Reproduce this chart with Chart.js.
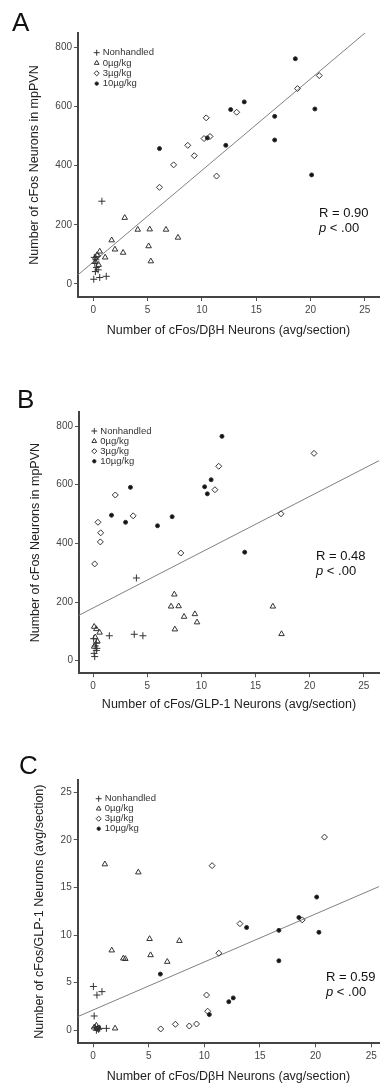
<!DOCTYPE html>
<html>
<head>
<meta charset="utf-8">
<script src="https://cdn.jsdelivr.net/npm/chart.js@4.4.1/dist/chart.umd.min.js"></script>
<style>
  body { margin: 0; background: #fff; }
  .panel { position: absolute; left: 0; width: 384px; }
</style>
</head>
<body>
<div class="panel" style="top:0px;height:345px"><canvas id="chartA" width="384" height="345"></canvas></div>
<div class="panel" style="top:360px;height:360px"><canvas id="chartB" width="384" height="360"></canvas></div>
<div class="panel" style="top:720px;height:368px"><canvas id="chartC" width="384" height="368"></canvas></div>
<script>
// groups (legend)
const groups = ['Nonhandled', '0µg/kg', '3µg/kg', '10µg/kg'];

// Panel A: DβH (x) vs cFos mpPVN (y)
const aNonhandled = [[0.8,280],[0.05,16],[0.6,22],[1.2,26],[0.2,42],[0.3,56],[0.15,70],[0.25,82],[0.45,48],[0.1,90]];
const aZero = [[2.9,224],[4.1,184],[5.2,185],[6.7,184],[7.8,157],[1.7,148],[2.0,117],[2.75,106],[5.1,128],[5.3,77],[1.1,90],[0.6,110],[0.35,98],[0.2,75],[0.5,65]];
const aThree = [[20.8,705],[18.8,661],[13.2,581],[10.4,562],[8.7,469],[9.3,434],[7.4,403],[10.2,492],[10.75,499],[11.35,365],[6.1,327],[0.2,88],[0.4,95]];
const aTen = [[18.6,762],[13.9,616],[12.65,590],[20.4,592],[16.7,567],[10.5,494],[12.2,469],[16.7,487],[6.1,458],[20.1,369]];
const aFit = [[-1.4,31],[26.3,889]];

// Panel B: GLP-1 (x) vs cFos mpPVN (y)
const bNonhandled = [[4.0,282],[1.5,85],[3.8,90],[4.6,85],[0.05,75],[0.3,60],[0.35,42],[0.1,25],[0.15,14],[0.3,35],[0.2,50]];
const bZero = [[7.5,226],[7.2,185],[7.9,186],[8.4,150],[9.4,159],[9.6,131],[7.55,107],[16.6,185],[17.4,91],[0.1,116],[0.3,108],[0.6,96],[0.2,80],[0.4,66],[0.1,48]];
const bThree = [[20.4,707],[11.6,663],[11.25,583],[2.05,565],[3.7,494],[17.35,501],[0.45,472],[0.7,436],[0.67,405],[0.15,330],[8.1,367]];
const bTen = [[11.9,765],[3.45,591],[10.3,593],[10.9,617],[10.55,569],[1.7,496],[3.0,472],[5.95,460],[7.3,491],[14.0,370]];
const bFit = [[-1.3,155],[26.4,682]];

// Panel C: DβH (x) vs GLP-1 (y)
const cNonhandled = [[0.03,4.6],[0.35,3.7],[0.8,4.06],[0.1,1.5],[1.2,0.2],[0.2,0.3],[0.5,0.1],[0.3,0.0],[0.6,0.2]];
const cZero = [[1.06,17.45],[4.07,16.6],[5.08,9.6],[7.76,9.4],[1.68,8.4],[2.72,7.55],[2.9,7.5],[5.17,7.9],[6.67,7.2],[1.98,0.2],[0.1,0.3],[0.3,0.5]];
const cThree = [[10.7,17.3],[20.8,20.3],[18.8,11.6],[13.2,11.2],[11.3,8.1],[10.2,3.7],[10.3,2.0],[6.08,0.14],[7.4,0.63],[8.65,0.45],[9.3,0.66]];
const cTen = [[20.1,14.0],[18.5,11.85],[20.3,10.3],[16.7,10.5],[16.7,7.3],[13.8,10.8],[6.05,5.9],[10.45,1.65],[12.2,3.0],[12.6,3.4],[0.3,0.2],[0.5,0.3],[0.4,0.1]];
const cFit = [[-1.38,1.43],[25.7,15.1]];

// ticks
const xTicks = [0, 5, 10, 15, 20, 25];
const cfosTicks = [0, 200, 400, 600, 800];
const glpTicks = [0, 5, 10, 15, 20, 25];

const FONT = "'Liberation Sans', Arial, sans-serif";
Chart.defaults.font.family = FONT;
Chart.defaults.color = '#444';

const markers = [
  { pointStyle: 'cross', radius: 3.5, fill: 'rgba(0,0,0,0)' },
  { pointStyle: 'triangle', radius: 3.2, fill: 'rgba(0,0,0,0)' },
  { pointStyle: 'rectRot', radius: 3, fill: 'rgba(0,0,0,0)' },
  { pointStyle: 'circle', radius: 2, fill: '#111' }
];

function toPts(arr) { return arr.map(p => ({ x: p[0], y: p[1] })); }

// letter, legend, R / p text
const panelText = {
  id: 'panelText',
  afterDraw(chart, args, o) {
    const ctx = chart.ctx;
    const ca = chart.chartArea;
    ctx.save();
    ctx.fillStyle = '#111';
    ctx.font = '26px ' + FONT;
    ctx.textBaseline = 'alphabetic';
    ctx.textAlign = 'left';
    ctx.fillText(o.letter, o.lx, o.ly);

    // legend
    ctx.font = '9.5px ' + FONT;
    ctx.textBaseline = 'middle';
    groups.forEach((g, i) => {
      const y = ca.top + o.legY + i * o.legStep;
      const m = markers[i];
      ctx.fillStyle = m.fill;
      ctx.strokeStyle = '#333';
      ctx.lineWidth = 1;
      Chart.helpers.drawPoint(ctx, { pointStyle: m.pointStyle, radius: m.radius * 0.85, rotation: 0, borderWidth: 1 }, ca.left + o.legX, y);
      ctx.fillStyle = '#333';
      ctx.fillText(g, ca.left + o.legX + 6, y);
    });

    // R and p
    ctx.fillStyle = '#111';
    ctx.font = '13px ' + FONT;
    ctx.fillText(o.r, o.rx, o.ry);
    ctx.font = 'italic 13px ' + FONT;
    ctx.fillText('p', o.rx, o.ry + 15);
    const w = ctx.measureText('p').width;
    ctx.font = '13px ' + FONT;
    ctx.fillText(' < .00', o.rx + w, o.ry + 15);
    ctx.restore();
  }
};

function makeChart(id, sets, fit, cfg) {
  const datasets = sets.map((s, i) => ({
    label: groups[i],
    data: toPts(s),
    pointStyle: markers[i].pointStyle,
    pointRadius: markers[i].radius,
    pointBorderWidth: 1,
    pointBorderColor: '#333',
    pointBackgroundColor: markers[i].fill,
    showLine: false
  }));
  datasets.push({
    type: 'line',
    label: 'fit',
    data: toPts(fit),
    borderColor: '#808080',
    borderWidth: 1,
    pointRadius: 0
  });
  const scaleBase = {
    type: 'linear',
    grid: { drawOnChartArea: false, drawTicks: true, tickLength: 4, color: '#555', tickWidth: 1 },
    border: { display: true, color: '#444', width: 2 },
    ticks: { font: { size: 10 }, color: '#444' }
  };
  return new Chart(document.getElementById(id), {
    type: 'scatter',
    data: { datasets },
    options: {
      responsive: false,
      animation: false,
      layout: { padding: { top: cfg.top, right: 0, bottom: 0, left: 0 } },
      plugins: {
        legend: { display: false },
        tooltip: { enabled: false },
        panelText: cfg.text
      },
      scales: {
        x: Object.assign({}, scaleBase, {
          min: cfg.xMin, max: cfg.xMax,
          ticks: { font: { size: 10 }, color: '#444', padding: 3 },
          afterBuildTicks: s => { s.ticks = xTicks.map(v => ({ value: v })); },
          afterFit: s => { s.height = cfg.xh; },
          title: { display: true, text: cfg.xTitle, font: { size: 12.5 }, color: '#222', padding: { top: 0, bottom: cfg.xtp } }
        }),
        y: Object.assign({}, scaleBase, {
          min: cfg.yMin, max: cfg.yMax,
          ticks: { font: { size: 10 }, color: '#444', padding: 2 },
          afterBuildTicks: s => { s.ticks = cfg.yTicks.map(v => ({ value: v })); },
          afterFit: s => { s.width = cfg.yw; },
          title: { display: true, text: cfg.yTitle, font: { size: 12.5 }, color: '#222', padding: { top: cfg.ytp, bottom: 0 } }
        })
      }
    },
    plugins: [panelText]
  });
}

makeChart('chartA', [aNonhandled, aZero, aThree, aTen], aFit, {
  top: 33, xh: 48, yw: 78, xtp: 6.5, ytp: 27.5,
  xMin: -1.4, xMax: 26.3, yMin: -44, yMax: 849, yTicks: cfosTicks,
  xTitle: 'Number of cFos/DβH Neurons (avg/section)',
  yTitle: 'Number of cFos Neurons in mpPVN',
  text: { letter: 'A', lx: 12, ly: 31, legX: 18.7, legY: 19.7, legStep: 10.3, r: 'R = 0.90', rx: 319, ry: 213 }
});

makeChart('chartB', [bNonhandled, bZero, bThree, bTen], bFit, {
  top: 52, xh: 46.7, yw: 79, xtp: 7.5, ytp: 28.5,
  xMin: -1.3, xMax: 26.4, yMin: -43, yMax: 848, yTicks: cfosTicks,
  xTitle: 'Number of cFos/GLP-1 Neurons (avg/section)',
  yTitle: 'Number of cFos Neurons in mpPVN',
  text: { letter: 'B', lx: 17, ly: 48, legX: 15.3, legY: 19, legStep: 10.1, r: 'R = 0.48', rx: 316, ry: 196.7 }
});

makeChart('chartC', [cNonhandled, cZero, cThree, cTen], cFit, {
  top: 60, xh: 44.7, yw: 77.7, xtp: 3.5, ytp: 32.5,
  xMin: -1.38, xMax: 25.7, yMin: -1.37, yMax: 26.3, yTicks: glpTicks,
  xTitle: 'Number of cFos/DβH Neurons (avg/section)',
  yTitle: 'Number of cFos/GLP-1 Neurons (avg/section)',
  text: { letter: 'C', lx: 19, ly: 53.5, legX: 21, legY: 18.7, legStep: 10, r: 'R = 0.59', rx: 326, ry: 257.3 }
});
</script>
</body>
</html>
